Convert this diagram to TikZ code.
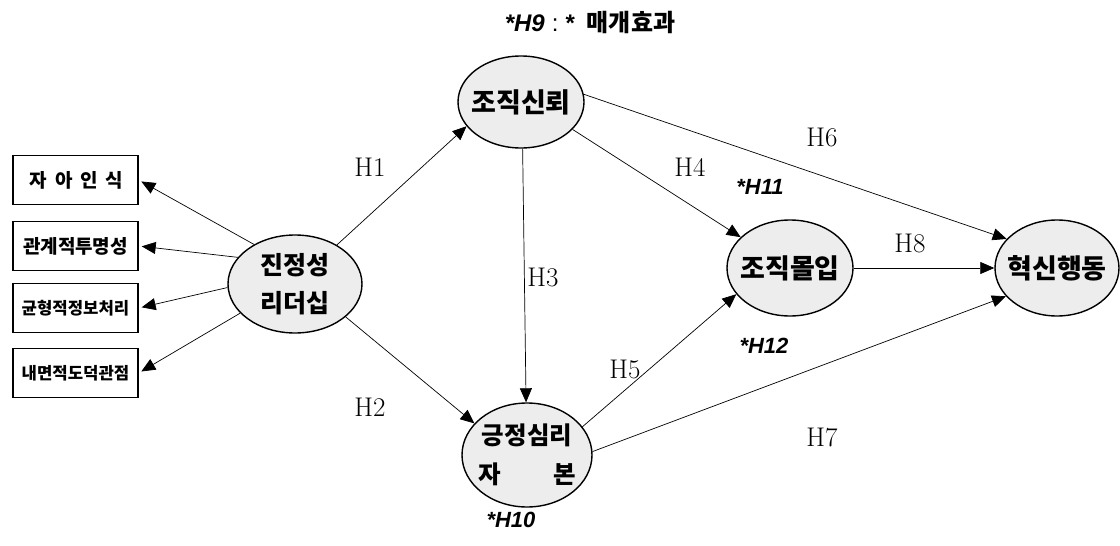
\documentclass[tikz,border=0pt]{standalone}
\usepackage{fontspec}
\newfontfamily\kr{Noto Sans CJK KR}
\newfontfamily\lsans{Liberation Sans}
\usetikzlibrary{shapes.geometric,arrows.meta}
\begin{document}
\begin{tikzpicture}[x=1pt,y=-1pt,
 lat/.style={ellipse, draw, line width=1.4pt, fill=black!7, inner xsep=-20pt, inner ysep=0pt, align=center,
   font=\kr\bfseries\fontsize{27}{38}\selectfont},
 obs/.style={draw, line width=1.4pt, minimum width=125pt, minimum height=49pt, inner sep=0pt,
   font=\kr\bfseries\fontsize{17}{20}\selectfont},
 arr/.style={-{Triangle[length=14pt,width=12pt]}, line width=0.7pt},
 hl/.style={font=\fontsize{27}{30}\selectfont},
 ml/.style={font=\lsans\bfseries\itshape\fontsize{22}{26}\selectfont}
]
\useasboundingbox (0,0) rectangle (1120,546);

% latent variables
\node[lat, minimum width=134pt, minimum height=98pt, font=\kr\bfseries\fontsize{25}{38}\selectfont] (L) at (295,284) {진정성\\리더십};
\node[lat, minimum width=126pt, minimum height=92pt] (T) at (521,102) {조직신뢰};
\node[lat, minimum width=130pt, minimum height=104pt, font=\kr\bfseries\fontsize{24.5}{39}\selectfont] (P) at (527,455) {긍정심리\\\makebox[4em]{자\hfill 본}};
\node[lat, minimum width=126pt, minimum height=96pt] (C) at (790,268) {조직몰입};
\node[lat, minimum width=124pt, minimum height=96pt] (I) at (1057,268) {혁신행동};

% observed boxes
\node[obs, font=\kr\bfseries\fontsize{19}{22}\selectfont] (b1) at (75.5,180) {\hspace{2pt}자\hspace{8pt}아\hspace{8pt}인\hspace{8pt}식};
\node[obs, font=\kr\bfseries\fontsize{19}{22}\selectfont] (b2) at (75.5,246) {관계적투명성};
\node[obs, font=\kr\bfseries\fontsize{16.7}{20}\selectfont] (b3) at (75.5,308) {균형적정보처리};
\node[obs, font=\kr\bfseries\fontsize{16.7}{20}\selectfont] (b4) at (75.5,373) {내면적도덕관점};

% arrows to boxes
\draw[arr, shorten >=3pt] (L.136) -- (b1.east);
\draw[arr, shorten >=3pt] (L.155) -- (b2.east);
\draw[arr, shorten >=3pt] (L.183) -- (b3.east);
\draw[arr, shorten >=3pt] (L.208) -- (b4.east);

% structural paths
\draw[arr] (L.43) -- (T.204);
\draw[arr] (L.-33) -- (P.149);
\draw[arr] (T.-88) -- (P.91);
\draw[arr] (T.-28) -- (C.148);
\draw[arr] (P.27) -- (C.206);
\draw[arr] (T.7) -- (I.150);
\draw[arr] (P.3) -- (I.209);
\draw[arr] (C.0) -- (I.180);

% path labels
\node[hl] (h1) at (370,167) {H1};
\node[hl] (h2) at (370,407) {H2};
\node[hl] (h3) at (543,277) {H3};
\node[hl] (h4) at (690,167) {H4};
\node[hl] (h5) at (625,369) {H5};
\node[hl] (h6) at (822,137) {H6};
\node[hl] (h7) at (822,437) {H7};
\node[hl] (h8) at (910,243) {H8};

% mediation labels
\node[ml] (m11) at (760,187) {*H11};
\node[ml] (m12) at (764,346) {*H12};
\node[ml] (m10) at (511,520) {*H10};
\node[font=\fontsize{24}{28}\selectfont] (m9) at (590,22)
  {{\lsans\bfseries\itshape *H9}\hspace{7pt}{\lsans :}\hspace{7pt}{\lsans\bfseries *}\hspace{12pt}{\kr\bfseries 매개효과}};
\end{tikzpicture}
\end{document}
